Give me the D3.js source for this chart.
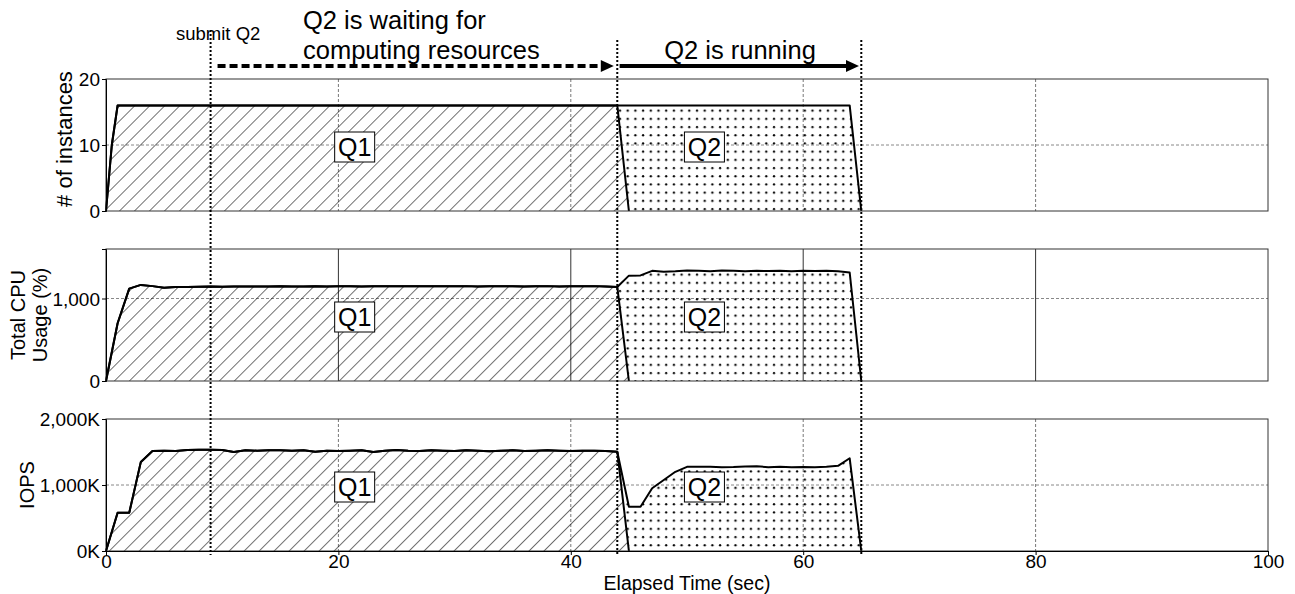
<!DOCTYPE html>
<html>
<head>
<meta charset="utf-8">
<script src="https://cdn.jsdelivr.net/npm/d3@7"></script>
<style>
  body { margin: 0; background: #fff; }
  text { font-family: "Liberation Sans", Arial, Helvetica, sans-serif; fill: #000; }
</style>
</head>
<body>
<svg id="chart"></svg>
<script>
// Chart size
const WIDTH = 1295, HEIGHT = 594;

// Data: number of instances (sampled at irregular times)
const timeInst = [0, 0.5, 1, 44, 45, 64, 65];
const q1Inst = [0, 10, 16, 16, 0, 0, 0];
const q2Inst = [0, 0, 0, 0, 16, 16, 0];

// Data: per-second samples for CPU and IOPS
const timeSec = [0, 1, 2, 3, 4, 5, 6, 7, 8, 9,
    10, 11, 12, 13, 14, 15, 16, 17, 18, 19,
    20, 21, 22, 23, 24, 25, 26, 27, 28, 29,
    30, 31, 32, 33, 34, 35, 36, 37, 38, 39,
    40, 41, 42, 43, 44, 45, 46, 47, 48, 49,
    50, 51, 52, 53, 54, 55, 56, 57, 58, 59,
    60, 61, 62, 63, 64, 65];

const q1Cpu = [0, 700, 1120, 1165, 1150, 1130, 1140, 1138, 1142, 1145,
    1143, 1145, 1144, 1146, 1145, 1147, 1144, 1146, 1148, 1145,
    1147, 1149, 1146, 1148, 1150, 1147, 1149, 1150, 1147, 1149,
    1148, 1150, 1146, 1148, 1150, 1147, 1145, 1148, 1150, 1146,
    1149, 1147, 1150, 1146, 1140, 0, 0, 0, 0, 0,
    0, 0, 0, 0, 0, 0, 0, 0, 0, 0,
    0, 0, 0, 0, 0, 0];
const q2Cpu = [0, 0, 0, 0, 0, 0, 0, 0, 0, 0,
    0, 0, 0, 0, 0, 0, 0, 0, 0, 0,
    0, 0, 0, 0, 0, 0, 0, 0, 0, 0,
    0, 0, 0, 0, 0, 0, 0, 0, 0, 0,
    0, 0, 0, 0, 0, 1277, 1280, 1335, 1325, 1330,
    1340, 1335, 1330, 1340, 1335, 1330, 1335, 1332, 1335, 1330,
    1335, 1332, 1336, 1330, 1315, 0];

// IOPS in thousands
const q1Iops = [0, 580, 580, 1350, 1515, 1520, 1515, 1530, 1535, 1535,
    1530, 1500, 1525, 1520, 1525, 1525, 1520, 1525, 1505, 1520,
    1515, 1520, 1525, 1500, 1520, 1530, 1520, 1515, 1525, 1520,
    1515, 1525, 1520, 1510, 1520, 1525, 1515, 1520, 1525, 1520,
    1515, 1520, 1520, 1515, 1505, 0, 0, 0, 0, 0,
    0, 0, 0, 0, 0, 0, 0, 0, 0, 0,
    0, 0, 0, 0, 0, 0];
const q2Iops = [0, 0, 0, 0, 0, 0, 0, 0, 0, 0,
    0, 0, 0, 0, 0, 0, 0, 0, 0, 0,
    0, 0, 0, 0, 0, 0, 0, 0, 0, 0,
    0, 0, 0, 0, 0, 0, 0, 0, 0, 0,
    0, 0, 0, 0, 0, 671, 671, 950, 1076, 1200,
    1275, 1275, 1278, 1270, 1272, 1280, 1285, 1270, 1275, 1268,
    1272, 1270, 1275, 1290, 1405, 0];

// Tick values
const xTicks = [0, 20, 40, 60, 80, 100];
const instTicks = [0, 10, 20];
const cpuTicks = [0, 1000];
const iopsTicks = [0, 1000, 2000];

// Event times (sec)
const submitQ2 = 9, startQ2 = 44, endQ2 = 65;
const q1End = 45;

const svg = d3.select("#chart").attr("width", WIDTH).attr("height", HEIGHT);

const xScale = d3.scaleLinear().domain([0, 100]).range([106, 1268]);

// Patterns
const defs = svg.append("defs");
const hatch = defs.append("pattern")
    .attr("id", "hatch")
    .attr("patternUnits", "userSpaceOnUse")
    .attr("width", 10.6).attr("height", 10.6)
    .attr("patternTransform", "rotate(45)");
hatch.append("line")
    .attr("x1", 0).attr("y1", 0).attr("x2", 0).attr("y2", 10.6)
    .attr("stroke", "#000").attr("stroke-width", 1.1);

const dots = defs.append("pattern")
    .attr("id", "dots")
    .attr("patternUnits", "userSpaceOnUse")
    .attr("width", 7.7).attr("height", 8.2)
    .attr("x", 2).attr("y", 2);
dots.append("circle")
    .attr("cx", 2).attr("cy", 2).attr("r", 1.15)
    .attr("fill", "#000");

const panels = [
    { time: timeInst, q1: q1Inst, q2: q2Inst, max: 20, ticks: instTicks,
      fmt: d3.format(","), top: 79, label: ["# of instances"], solidGrid: false },
    { time: timeSec, q1: q1Cpu, q2: q2Cpu, max: 1600, ticks: cpuTicks,
      fmt: d3.format(","), top: 249, label: ["Total CPU", "Usage (%)"], solidGrid: true },
    { time: timeSec, q1: q1Iops, q2: q2Iops, max: 2000, ticks: iopsTicks,
      fmt: d => d3.format(",")(d) + "K", top: 419, label: ["IOPS"], solidGrid: false }
];
const PANEL_H = 132;

panels.forEach((p, idx) => {
    const yScale = d3.scaleLinear().domain([0, p.max]).range([p.top + PANEL_H, p.top]);
    const g = svg.append("g");

    // grid lines
    g.selectAll(".hgrid")
        .data(p.ticks.filter(t => t > 0 && t < p.max))
        .enter().append("line")
        .attr("x1", xScale(0)).attr("x2", xScale(100))
        .attr("y1", d => yScale(d)).attr("y2", d => yScale(d))
        .attr("stroke", "#888").attr("stroke-width", 1)
        .attr("stroke-dasharray", "3,2");
    g.selectAll(".vgrid")
        .data(xTicks.filter(t => t > 0 && t < 100))
        .enter().append("line")
        .attr("x1", d => xScale(d)).attr("x2", d => xScale(d))
        .attr("y1", p.top).attr("y2", p.top + PANEL_H)
        .attr("stroke", p.solidGrid ? "#333" : "#777").attr("stroke-width", 1)
        .attr("stroke-dasharray", p.solidGrid ? null : "3,2");

    // stacked series
    const rows = p.time.map((t, i) => ({ t: t, q1: p.q1[i], q2: p.q2[i] }));
    const stacked = d3.stack().keys(["q1", "q2"])(rows);

    const area = d3.area()
        .x(d => xScale(d.data.t))
        .y0(d => yScale(d[0]))
        .y1(d => yScale(d[1]));

    g.append("path").datum(stacked[1])
        .attr("d", area).attr("fill", "url(#dots)").attr("stroke", "none");
    g.append("path").datum(stacked[0])
        .attr("d", area).attr("fill", "url(#hatch)").attr("stroke", "none");

    // outlines
    g.append("path").datum(stacked[0].filter(d => d.data.t <= q1End))
        .attr("d", d3.line().x(d => xScale(d.data.t)).y(d => yScale(d[1])))
        .attr("fill", "none").attr("stroke", "#000").attr("stroke-width", 2)
        .attr("stroke-linejoin", "round");
    g.append("path").datum(stacked[1])
        .attr("d", d3.line().x(d => xScale(d.data.t)).y(d => yScale(d[1])))
        .attr("fill", "none").attr("stroke", "#000").attr("stroke-width", 2)
        .attr("stroke-linejoin", "round");

    // frame
    g.append("rect")
        .attr("x", xScale(0)).attr("y", p.top)
        .attr("width", xScale(100) - xScale(0)).attr("height", PANEL_H)
        .attr("fill", "none").attr("stroke", "#333").attr("stroke-width", 1);

    // y axis
    const yAxis = g.append("g")
        .attr("transform", "translate(" + xScale(0) + ",0)")
        .call(d3.axisLeft(yScale).tickValues(p.ticks).tickFormat(p.fmt).tickSize(4).tickPadding(2));
    yAxis.select(".domain").attr("stroke", "#000");
    yAxis.selectAll("text").style("font-size", "19px").attr("dy", "0.36em");

    // y label
    const cy = p.top + PANEL_H / 2;
    const lx = p.label.length === 1 ? (idx === 0 ? 64 : 27) : 18;
    p.label.forEach((s, k) => {
        g.append("text")
            .attr("transform", "translate(" + (lx + k * 22) + "," + (idx === 0 ? cy - 6 : cy) + ") rotate(-90)")
            .attr("text-anchor", "middle")
            .attr("dy", "0.36em")
            .style("font-size", idx === 0 ? "22px" : "20px")
            .text(s);
    });

    // Q1 / Q2 boxes
    [["Q1", 21.4], ["Q2", 51.5]].forEach(([name, t]) => {
        const bx = xScale(t), by = p.top + 68;
        g.append("rect")
            .attr("x", bx - 20).attr("y", by - 15)
            .attr("width", 40).attr("height", 30)
            .attr("fill", "#fff").attr("stroke", "#000").attr("stroke-width", 1);
        g.append("text")
            .attr("x", bx).attr("y", by)
            .attr("dy", "0.36em")
            .attr("text-anchor", "middle")
            .style("font-size", "25px")
            .text(name);
    });

    // x axis on the last panel
    if (idx === panels.length - 1) {
        const xAxis = g.append("g")
            .attr("transform", "translate(0," + (p.top + PANEL_H) + ")")
            .call(d3.axisBottom(xScale).tickValues(xTicks).tickSize(4).tickPadding(0));
        xAxis.select(".domain").attr("stroke", "#000");
        xAxis.selectAll("text").style("font-size", "19px");
    }
});

// x axis title
svg.append("text")
    .attr("x", (xScale(0) + xScale(100)) / 2)
    .attr("y", 590)
    .attr("text-anchor", "middle")
    .style("font-size", "19.5px")
    .text("Elapsed Time (sec)");

// event markers
[[submitQ2, 30], [startQ2, 40], [endQ2, 40]].forEach(([t, y0]) => {
    svg.append("line")
        .attr("x1", xScale(t)).attr("x2", xScale(t))
        .attr("y1", y0).attr("y2", 555)
        .attr("stroke", "#000").attr("stroke-width", 2)
        .attr("stroke-dasharray", "2,2");
});

// arrows
const arrowY = 66;
function arrow(t0, t1, dashed) {
    const xa = xScale(t0), xb = xScale(t1);
    svg.append("line")
        .attr("x1", xa).attr("x2", xb - 10)
        .attr("y1", arrowY).attr("y2", arrowY)
        .attr("stroke", "#000").attr("stroke-width", 4)
        .attr("stroke-dasharray", dashed ? "8,4" : null);
    svg.append("path")
        .attr("d", "M" + (xb - 13) + "," + (arrowY - 6) + " L" + xb + "," + arrowY +
            " L" + (xb - 13) + "," + (arrowY + 6) + " Z")
        .attr("fill", "#000");
}
arrow(9.6, 43.7, true);
arrow(44.2, 64.8, false);

// annotations
svg.append("text").attr("x", 176).attr("y", 40).style("font-size", "18.5px").text("submit Q2");
svg.append("text").attr("x", 303).attr("y", 29).style("font-size", "25.5px").text("Q2 is waiting for");
svg.append("text").attr("x", 303).attr("y", 59).style("font-size", "25.5px").text("computing resources");
svg.append("text").attr("x", 740).attr("y", 59).attr("text-anchor", "middle")
    .style("font-size", "25.5px").text("Q2 is running");
</script>
</body>
</html>
